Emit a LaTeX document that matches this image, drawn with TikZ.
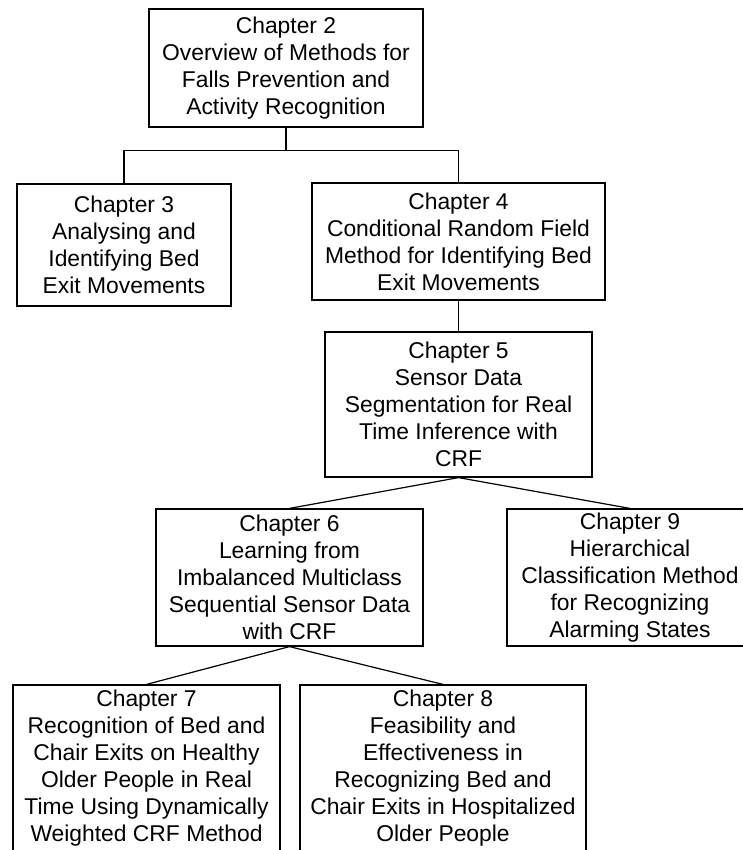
\documentclass[tikz,border=0pt]{standalone}
\usepackage{fontspec}
\setmainfont{Liberation Sans}
\usepackage{tikz}
\usetikzlibrary{positioning,calc}
\tikzset{chapbox/.style={draw, line width=1.2pt, inner sep=0pt, align=center,
    font=\fontsize{22.85}{27}\selectfont},
  link/.style={line width=1.2pt}}

\begin{document}
\begin{tikzpicture}[x=1pt, y=-1pt]
\useasboundingbox (0,0) rectangle (743,850);
\node[chapbox, minimum width=274pt, minimum height=118pt] (ch2) at (286,68)
  {Chapter 2\\Overview of Methods for\\Falls Prevention and\\Activity Recognition};
\node[chapbox, minimum width=214pt, minimum height=122pt] (ch3) at (124,245)
  {Chapter 3\\Analysing and\\Identifying Bed\\Exit Movements};
\node[chapbox, minimum width=293pt, minimum height=117pt] (ch4) at (458.5,241.5)
  {Chapter 4\\Conditional Random Field\\Method for Identifying Bed\\Exit Movements};
\node[chapbox, minimum width=267pt, minimum height=145pt] (ch5) at (458.5,404.5)
  {Chapter 5\\Sensor Data\\Segmentation for Real\\Time Inference with\\CRF};
\node[chapbox, minimum width=267pt, minimum height=137pt] (ch6) at (289.5,577.5)
  {Chapter 6\\Learning from\\Imbalanced Multiclass\\Sequential Sensor Data\\with CRF};
\node[chapbox, minimum width=246pt, minimum height=137pt] (ch9) at (630,577.5)
  {Chapter 9\\Hierarchical\\Classification Method\\for Recognizing\\Alarming States};
\node[chapbox, minimum width=267pt, minimum height=167pt] (ch7) at (146.5,768.5)
  {Chapter 7\\Recognition of Bed and\\Chair Exits on Healthy\\Older People in Real\\Time Using Dynamically\\Weighted CRF Method};
\node[chapbox, minimum width=286pt, minimum height=167pt] (ch8) at (443,768.5)
  {Chapter 8\\Feasibility and\\Effectiveness in\\Recognizing Bed and\\Chair Exits in Hospitalized\\Older People};
% tree links
\draw[link] (ch2.south) -- ++(0,23) -| (ch3.north);
\draw[link] (ch2.south) -- ++(0,23) -| (ch4.north);
\draw[link] (ch4.south) -- (ch5.north);
\draw[link] (ch6.north) -- (ch5.south) -- (ch9.north);
\draw[link] (ch7.north) -- (ch6.south) -- (ch8.north);
\end{tikzpicture}
\end{document}
